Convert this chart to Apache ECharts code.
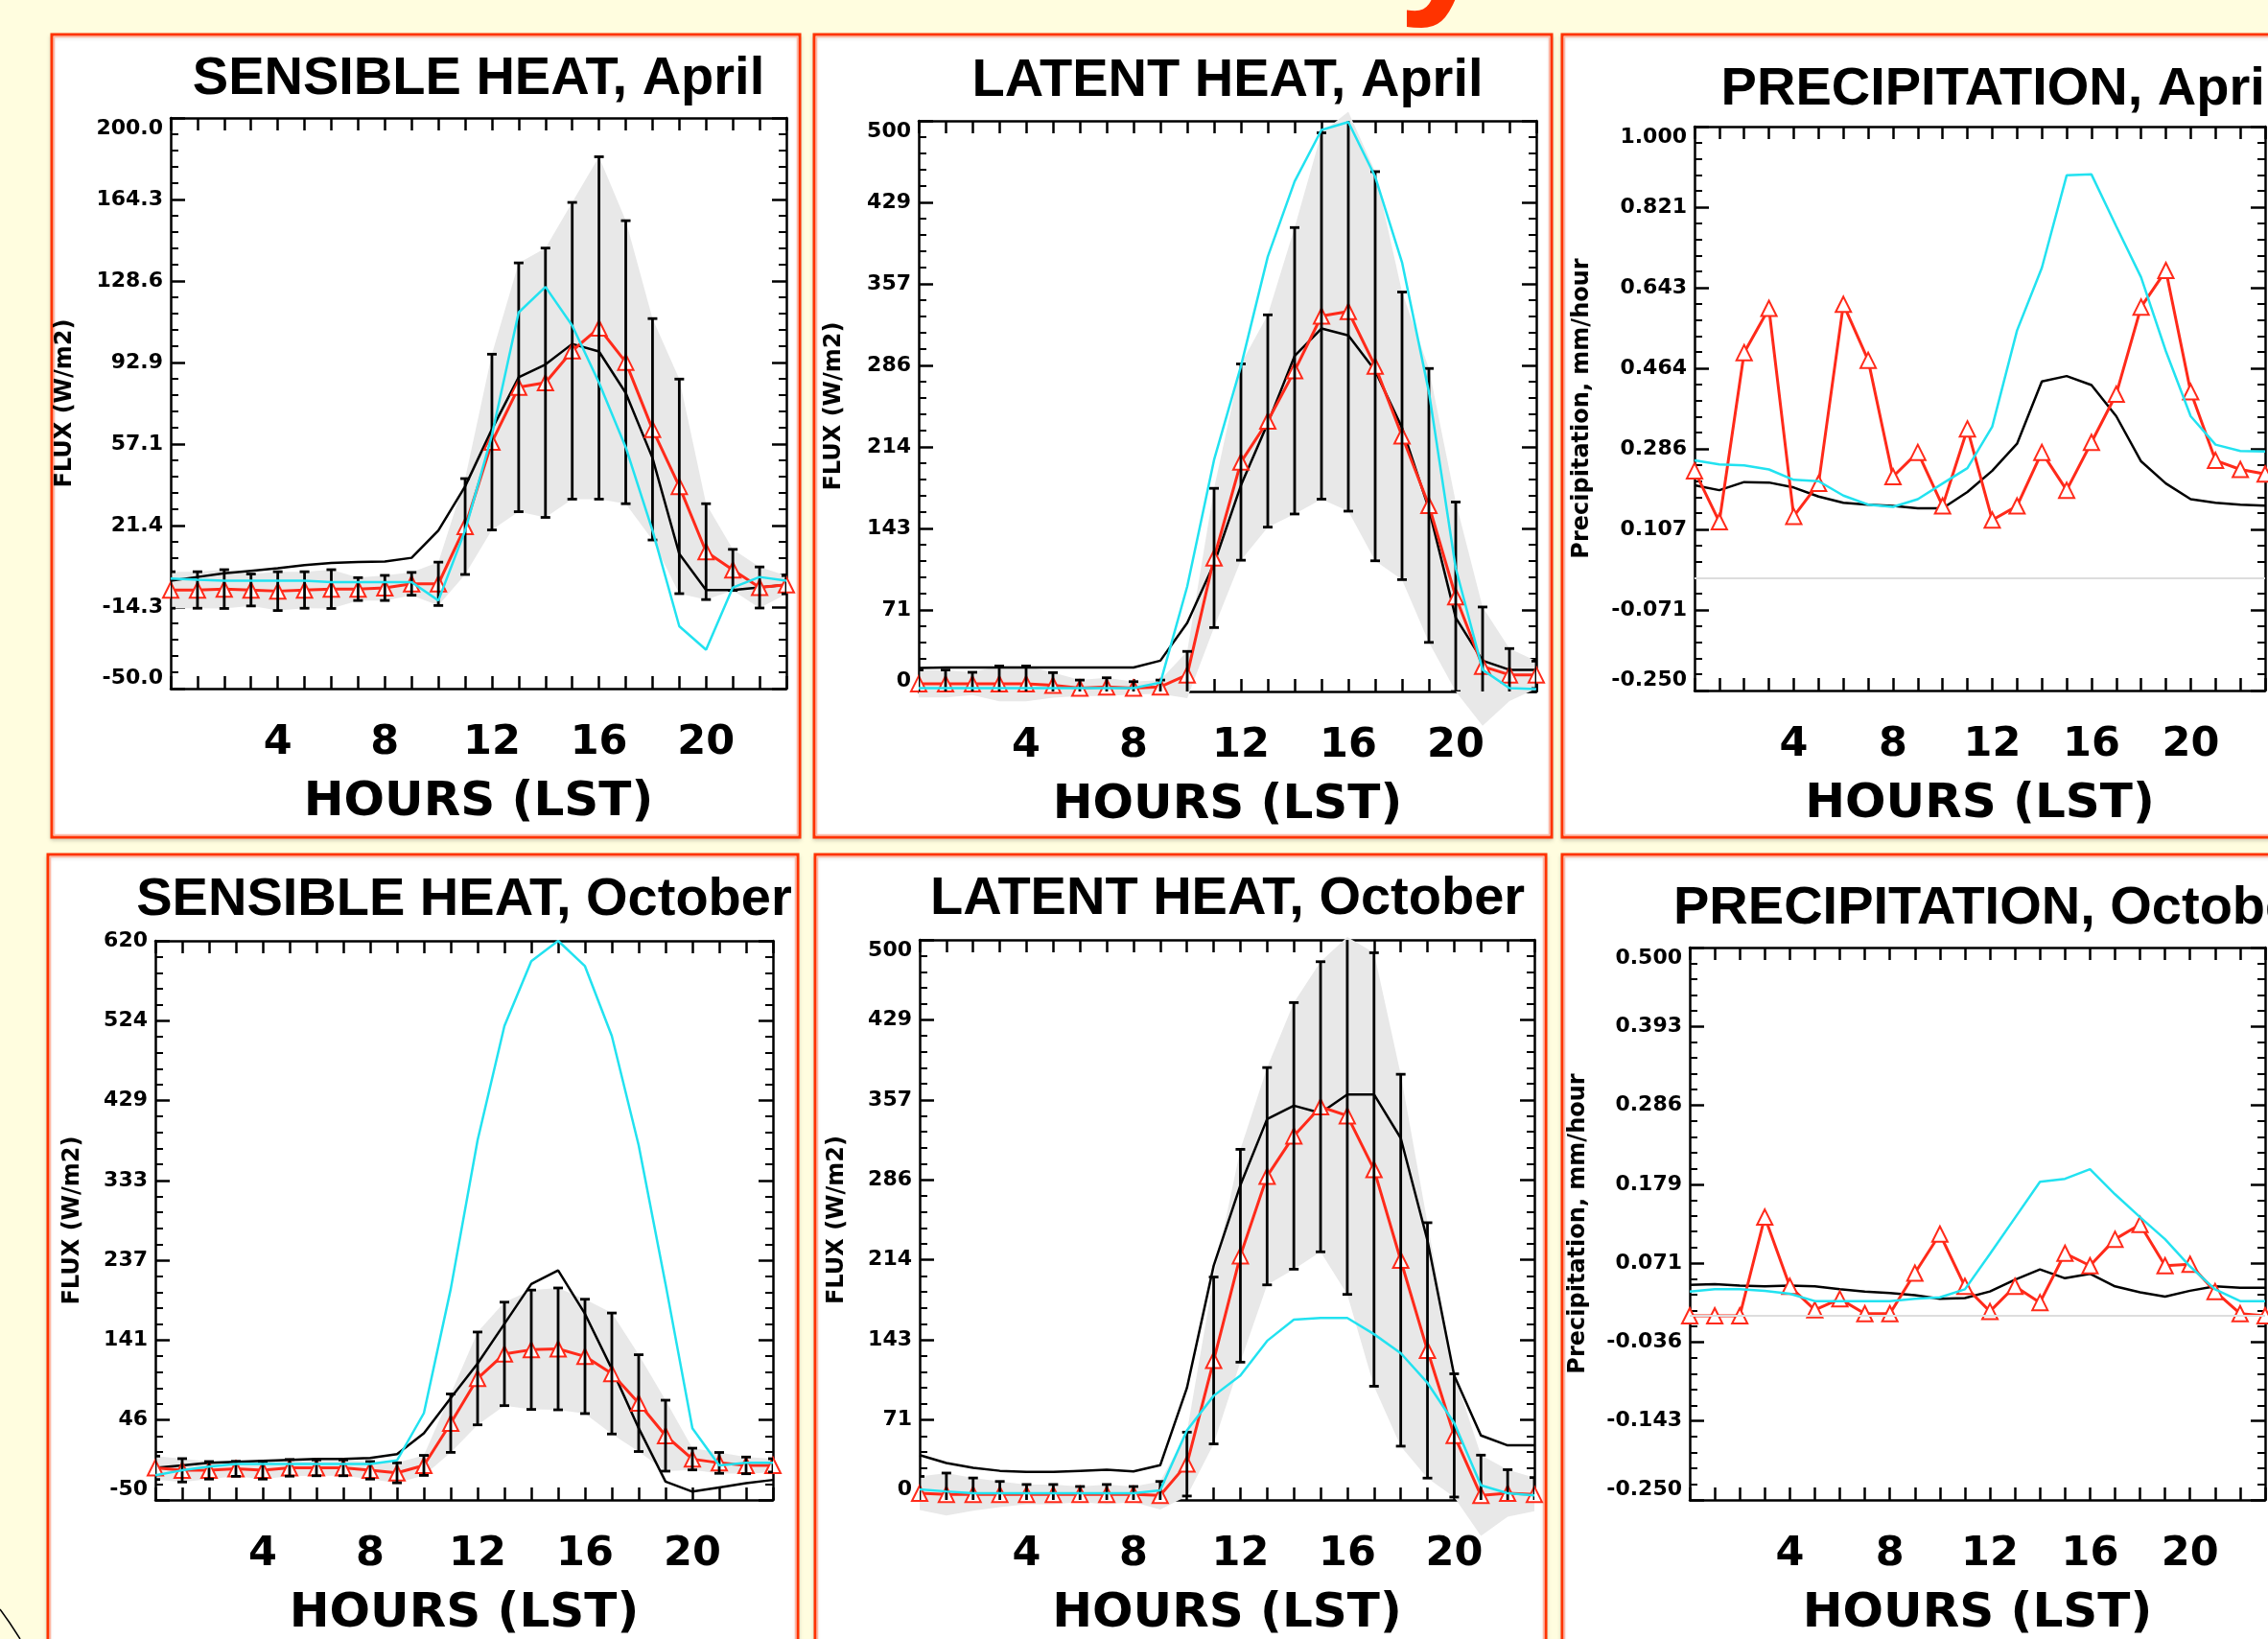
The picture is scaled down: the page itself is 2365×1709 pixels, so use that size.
<!DOCTYPE html>
<html>
<head>
<meta charset="utf-8">
<script src="https://cdn.jsdelivr.net/npm/echarts@6/dist/echarts.min.js"></script>
<style>
html, body { margin: 0; padding: 0; background: #FFFDDF; }
#main { width: 2365px; height: 1709px; }
</style>
</head>
<body>
<div id="main"></div>
<script>
// hours of the day (LST)
var hours = [0,1,2,3,4,5,6,7,8,9,10,11,12,13,14,15,16,17,18,19,20,21,22,23];

var titles = ['SENSIBLE HEAT, April', 'LATENT HEAT, April', 'PRECIPITATION, April',
              'SENSIBLE HEAT, October', 'LATENT HEAT, October', 'PRECIPITATION, October'];

// y ranges (7 equal intervals between min and max)
var shAprRange = [-50, 200];
var lhAprRange = [0, 500];
var prAprRange = [-0.25, 1];
var shOctRange = [-50, 620];
var lhOctRange = [0, 500];
var prOctRange = [-0.25, 0.5];

// SENSIBLE HEAT, April: obs mean (red), obs std (bars / grey band), model black, model cyan
var shAprObs  = [-6.8,-6.8,-6.4,-6.8,-7.3,-6.8,-6.4,-6.4,-5.9,-4.1,-4.1,21,58,82,84,98,108,93,63.6,38.6,10,2,-5.7,-4.5];
var shAprStd  = [8,8,8.5,7,8.5,8,8.5,5,5.5,5,9.5,21,38.5,54.5,59,65,75,62,48.5,47,21,9,9,4];
var shAprBlk  = [-2.7,-1.1,0.5,1.6,2.7,4.1,5,5.5,5.7,7.3,19.3,38.6,63.6,86.4,92,101,97.7,79.5,51,9,-6.8,-6.8,-5.7,-4.5];
var shAprCyan = [-1.8,-2.3,-2.7,-2.7,-2.7,-2.7,-3.4,-3.4,-3.4,-3.4,-11.4,19.3,61,114.8,126,109,84,55.7,19.3,-22.7,-33,-5.7,-1.1,-2.7];

// LATENT HEAT, April
var lhAprObs  = [6.8,6.8,6.8,6.8,6.8,5.5,3,4,3,4,14.6,117,201,237,281,329,333,285,224,163,83,22,14.6,14.6];
var lhAprStd  = [12,12,10,15.5,15.5,11,7,8,5.6,6,20.5,61,86,93,125.5,160.5,175,170.5,126,120,83,52,23,12];
var lhAprBlk  = [20.5,21,21,21,21,21,21,21,21,27,60,112,180.6,235,294,318,312,281,231,160,64.6,27,19,19];
var lhAprCyan = [3,3,3,3,3,3,3,3,3,7.7,92,203,285,381,447,492,499,451,376,262.5,108,19,3,2];

// PRECIPITATION, April
var prAprObs  = [0.237,0.124,0.499,0.597,0.136,0.209,0.606,0.482,0.224,0.278,0.159,0.33,0.128,0.159,0.278,0.194,0.30,0.407,0.60,0.681,0.412,0.26,0.24,0.23];
var prAprBlk  = [0.205,0.194,0.212,0.211,0.20,0.18,0.166,0.162,0.159,0.154,0.154,0.19,0.237,0.297,0.435,0.447,0.427,0.358,0.258,0.209,0.174,0.166,0.162,0.16];
var prAprCyan = [0.26,0.251,0.249,0.24,0.217,0.214,0.182,0.162,0.157,0.174,0.209,0.243,0.335,0.548,0.687,0.892,0.894,0.779,0.666,0.502,0.358,0.295,0.281,0.28];

// SENSIBLE HEAT, October
var shOctObs  = [-11.5,-14.5,-14.5,-12.7,-14.5,-11.5,-11.5,-11.5,-14.5,-17.5,-8.6,42,95.6,125,130,131,122,101.5,66,27,-1,-5.6,-8.6,-8.6];
var shOctStd  = [14,14,10.5,9,10.5,10,9.5,9.5,10.5,12,12,35,55.6,62,71.5,73,68.5,72.5,58,42.5,13,12.5,10,8];
var shOctBlk  = [-11.5,-8.6,-5.6,-4.4,-3.2,-2,-0.8,-0.8,0.4,5,30,72,113.5,161,208.7,225,173,107,36,-28,-40,-35,-30,-26];
var shOctCyan = [-20.5,-14.5,-10,-6.8,-6.8,-6.8,-6.8,-6.8,-6.8,-2.6,54,202.7,381,518,595.6,620,589.6,506,375,208.7,36,-8.6,-5.6,-5.6];

// LATENT HEAT, October
var lhOctObs  = [6,5,5,5,5,5,5,5,5,4,32,124.5,218,289,325,351,343,295,214,133.5,57.6,4,6,5];
var lhOctStd  = [15,19,14.6,11.5,8.8,8.8,7,8.8,7,12.5,28.5,74.5,95,97,119,129.5,159.5,193.5,166,114,55,36,21,15];
var lhOctBlk  = [40,33,28.6,26,25,25,26,27,25.4,31,100,209,281,340,352,345.5,362,362,323,231.7,111,57.6,48.7,48.7];
var lhOctCyan = [9.4,7.6,6,6,6,6,6,6,6,8.5,62,93,111,142,161,162.5,162.5,148,131,104.5,68.7,13,6,4];

// PRECIPITATION, October
var prOctObs  = [0,0,0,0.134,0.04,0.008,0.023,0.003,0.003,0.058,0.111,0.04,0.006,0.04,0.018,0.085,0.068,0.104,0.124,0.068,0.07,0.033,0.003,0];
var prOctBlk  = [0.042,0.043,0.041,0.04,0.041,0.04,0.036,0.033,0.031,0.028,0.023,0.024,0.033,0.049,0.063,0.051,0.057,0.04,0.032,0.026,0.034,0.04,0.038,0.038];
var prOctCyan = [0.033,0.036,0.036,0.034,0.03,0.02,0.02,0.02,0.02,0.023,0.025,0.036,0.084,0.133,0.182,0.186,0.199,0.165,0.134,0.104,0.067,0.036,0.02,0.02];

var RED = '#FF2A1A', CYAN = '#22E2F0', BAND = '#E8E8E8', FRAME = '#FF3300';
var FONT = 'DejaVu Sans';

var panels = [
  {title: titles[0], range: shAprRange, dec: 1, obs: shAprObs, std: shAprStd, blk: shAprBlk, cyan: shAprCyan,
   yName: 'FLUX (W/m2)', nameGap: 98, grid: {left: 178, top: 123, width: 642, height: 595}, tx: 499, ty: 83},
  {title: titles[1], range: lhAprRange, dec: 0, obs: lhAprObs, std: lhAprStd, blk: lhAprBlk, cyan: lhAprCyan,
   yName: 'FLUX (W/m2)', nameGap: 76, grid: {left: 958, top: 126, width: 644, height: 595}, tx: 1280, ty: 85},
  {title: titles[2], range: prAprRange, dec: 3, obs: prAprObs, std: null, blk: prAprBlk, cyan: prAprCyan,
   yName: 'Precipitation, mm/hour', nameGap: 105, grid: {left: 1767, top: 132, width: 638, height: 588}, tx: 2086, ty: 94},
  {title: titles[3], range: shOctRange, dec: 0, obs: shOctObs, std: shOctStd, blk: shOctBlk, cyan: shOctCyan,
   yName: 'FLUX (W/m2)', nameGap: 74, grid: {left: 162, top: 981, width: 644, height: 594}, tx: 484, ty: 939},
  {title: titles[4], range: lhOctRange, dec: 0, obs: lhOctObs, std: lhOctStd, blk: lhOctBlk, cyan: lhOctCyan,
   yName: 'FLUX (W/m2)', nameGap: 74, grid: {left: 959, top: 980, width: 641, height: 592}, tx: 1280, ty: 938},
  {title: titles[5], range: prOctRange, dec: 3, obs: prOctObs, std: null, blk: prOctBlk, cyan: prOctCyan,
   yName: 'Precipitation, mm/hour', nameGap: 104, grid: {left: 1762, top: 988, width: 636, height: 587}, tx: 2080, ty: 948}
];

function pairs(arr) {
  return hours.map(function (h, k) { return [h, arr[k]]; });
}

var grids = [], xAxes = [], yAxes = [], series = [], titleOpts = [];

panels.forEach(function (p, i) {
  grids.push(p.grid);

  titleOpts.push({
    text: p.title, left: p.tx, top: p.ty, padding: 0,
    textAlign: 'center', textVerticalAlign: 'middle',
    textStyle: {fontFamily: 'Liberation Sans', fontWeight: 'bold', fontSize: 56, color: '#000'}
  });

  var xBase = {
    gridIndex: i, type: 'value', min: 0, max: 23, interval: 1,
    splitLine: {show: false},
    axisLine: {show: true, onZero: false, lineStyle: {color: '#000', width: 2.5}},
    axisTick: {show: true, inside: true, length: 13, lineStyle: {color: '#000', width: 2.5}}
  };
  xAxes.push(Object.assign({}, xBase, {
    position: 'bottom',
    axisLabel: {
      margin: 35, fontFamily: FONT, fontWeight: 'bold', fontSize: 43, color: '#000',
      formatter: function (v) { return (v > 0 && v % 4 === 0) ? String(v) : ''; }
    },
    name: 'HOURS (LST)', nameLocation: 'middle', nameGap: 94,
    nameTextStyle: {fontFamily: FONT, fontWeight: 'bold', fontSize: 50, color: '#000'}
  }));
  xAxes.push(Object.assign({}, xBase, {position: 'top', axisLabel: {show: false}}));

  var yBase = {
    gridIndex: i, type: 'value', min: p.range[0], max: p.range[1],
    interval: (p.range[1] - p.range[0]) / 7,
    splitLine: {show: false},
    axisLine: {show: true, onZero: false, lineStyle: {color: '#000', width: 2.5}},
    axisTick: {show: true, inside: true, length: 15, lineStyle: {color: '#000', width: 2.5}},
    minorTick: {show: true, splitNumber: 5, length: 8, lineStyle: {color: '#000', width: 2}}
  };
  yAxes.push(Object.assign({}, yBase, {
    position: 'left',
    axisLabel: {
      margin: 8, fontFamily: FONT, fontWeight: 'bold', fontSize: 22, color: '#000',
      verticalAlignMaxLabel: 'top', verticalAlignMinLabel: 'bottom',
      formatter: function (v) { return v.toFixed(p.dec); }
    },
    name: p.yName, nameLocation: 'middle', nameGap: p.nameGap,
    nameTextStyle: {fontFamily: FONT, fontWeight: 'bold', fontSize: 24, color: '#000'}
  }));
  yAxes.push(Object.assign({}, yBase, {position: 'right', axisLabel: {show: false}}));

  var ax = {xAxisIndex: 2 * i, yAxisIndex: 2 * i};

  if (p.std) {
    // grey band: obs mean +/- std, drawn as one polygon through the axes
    series.push(Object.assign({
      type: 'custom', z: 1, clip: false, silent: true,
      encode: {x: 0, y: [1, 2]},
      data: hours.map(function (h, k) { return [h, p.obs[k] - p.std[k], p.obs[k] + p.std[k]]; }),
      renderItem: function (params, api) {
        if (params.dataIndex !== 0) return null;
        var top = [], bot = [];
        for (var k = 0; k < hours.length; k++) {
          top.push(api.coord([hours[k], p.obs[k] + p.std[k]]));
          bot.push(api.coord([hours[k], p.obs[k] - p.std[k]]));
        }
        return {type: 'polygon', shape: {points: top.concat(bot.reverse())}, style: {fill: BAND}};
      }
    }, ax));
  }

  // black model line
  var blk = Object.assign({
    type: 'line', z: 2, symbol: 'none', silent: true,
    lineStyle: {color: '#000', width: 2.5},
    data: pairs(p.blk)
  }, ax);
  if (!p.std) {
    blk.markLine = {
      silent: true, symbol: 'none', label: {show: false}, animation: false,
      lineStyle: {color: '#DDDDDD', width: 2, type: 'solid'},
      data: [{yAxis: 0}]
    };
  }
  series.push(blk);

  // red observations with open triangles
  series.push(Object.assign({
    type: 'line', z: 3, silent: true,
    symbol: 'emptyTriangle', symbolSize: 16, showAllSymbol: true,
    itemStyle: {color: RED, borderColor: RED, borderWidth: 2.5},
    lineStyle: {color: RED, width: 3},
    data: pairs(p.obs)
  }, ax));

  if (p.std) {
    // error bars
    series.push(Object.assign({
      type: 'custom', z: 4, clip: true, silent: true,
      encode: {x: 0, y: [1, 2]},
      data: hours.map(function (h, k) { return [h, p.obs[k] - p.std[k], p.obs[k] + p.std[k]]; }),
      renderItem: function (params, api) {
        var x = api.value(0);
        var lo = api.coord([x, api.value(1)]);
        var hi = api.coord([x, api.value(2)]);
        var c = 5, st = {stroke: '#000', lineWidth: 2.8};
        return {type: 'group', children: [
          {type: 'line', shape: {x1: lo[0], y1: lo[1], x2: hi[0], y2: hi[1]}, style: st},
          {type: 'line', shape: {x1: hi[0] - c, y1: hi[1], x2: hi[0] + c, y2: hi[1]}, style: st},
          {type: 'line', shape: {x1: lo[0] - c, y1: lo[1], x2: lo[0] + c, y2: lo[1]}, style: st}
        ]};
      }
    }, ax));
  }

  // cyan model line
  series.push(Object.assign({
    type: 'line', z: 5, symbol: 'none', silent: true,
    lineStyle: {color: CYAN, width: 2.5},
    data: pairs(p.cyan)
  }, ax));
});

function frame(x, y, w, h) {
  return [
    {type: 'rect', z: -10, shape: {x: x, y: y, width: w, height: h},
     style: {fill: '#fff', stroke: FRAME, lineWidth: 3, shadowBlur: 4, shadowColor: 'rgba(0,0,0,0.15)', shadowOffsetY: 2}},
    {type: 'rect', z: -9, shape: {x: x + 2.5, y: y + 2.5, width: w - 5, height: h - 5},
     style: {fill: null, stroke: '#FFB9A6', lineWidth: 1.5}}
  ];
}

var elements = [].concat(
  frame(54, 36, 780, 837),
  frame(849, 36, 769, 837),
  frame(1629, 36, 800, 837),
  frame(50, 891, 782, 900),
  frame(850, 891, 762, 900),
  frame(1629, 891, 800, 900)
);
elements.push({
  type: 'text', z: 20, x: 1285, y: -57,
  style: {text: 'Diurnal Cycles', font: 'bold 178px "Liberation Sans"', fill: FRAME,
          textAlign: 'center', textVerticalAlign: 'middle',
          shadowColor: 'rgba(0,0,0,0.3)', shadowBlur: 8, shadowOffsetX: 5, shadowOffsetY: 10}
});
elements.push({
  type: 'polyline', z: 20,
  shape: {points: [[0, 1678], [10, 1692], [21, 1709]]},
  style: {stroke: '#000', lineWidth: 1.5, fill: null}
});

var chart = echarts.init(document.getElementById('main'));
var option = {
  backgroundColor: '#FFFDDF',
  animation: false,
  title: titleOpts,
  graphic: {elements: elements},
  grid: grids,
  xAxis: xAxes,
  yAxis: yAxes,
  series: series
};
chart.setOption(option);
</script>
</body>
</html>
